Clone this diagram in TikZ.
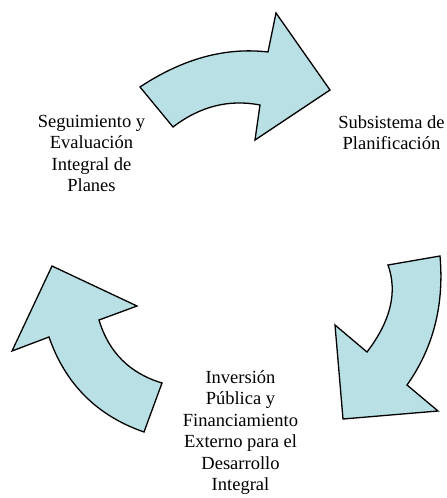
\documentclass[tikz,border=0pt]{standalone}
\usepackage{fontspec}
\setmainfont{Liberation Serif}
\newfontfamily\lblfont{Liberation Serif}
\begin{document}
\begin{tikzpicture}[x=1pt,y=-1pt,
  arrowshape/.style={draw=black,fill=arrowfill,line width=1.3pt,line join=miter},
  lbl/.style={align=center,inner sep=0pt,font=\lblfont\fontsize{18.5}{21.5}\selectfont}]
\definecolor{arrowfill}{RGB}{185,224,228}
\useasboundingbox (0,0) rectangle (447,498);
% top arrow
\draw[arrowshape] (140,87) .. controls (182.7,58.7) and (225.3,47) .. (268,52) -- (276,13) -- (330,90) -- (255,140) -- (260,105) .. controls (229,99) and (200,106.3) .. (173,127) -- cycle;
% right arrow
\draw[arrowshape] (388,265) -- (440,256) .. controls (444.3,305) and (433.3,348) .. (407,385) -- (438,411) -- (343,419) -- (335,325) -- (367,352) .. controls (390.7,321) and (397.7,292) .. cycle;
% left arrow
\draw[arrowshape] (52,266) -- (137,306) -- (99,320) .. controls (108.7,352.3) and (129.7,373.3) .. (162,383) -- (144,432) .. controls (97,415.7) and (65.3,384) .. (49,337) -- (12,351) -- cycle;
% labels
\node[lbl,anchor=north] (seg) at (91.5,115) {Seguimiento y\\Evaluación\\Integral de\\Planes};
\node[lbl,anchor=north] (sub) at (391.5,115) {Subsistema de\\Planificación};
\node[lbl,anchor=north] (inv) at (240.5,370) {Inversión\\Pública y\\Financiamiento\\Externo para el\\Desarrollo\\Integral};
\end{tikzpicture}
\end{document}
